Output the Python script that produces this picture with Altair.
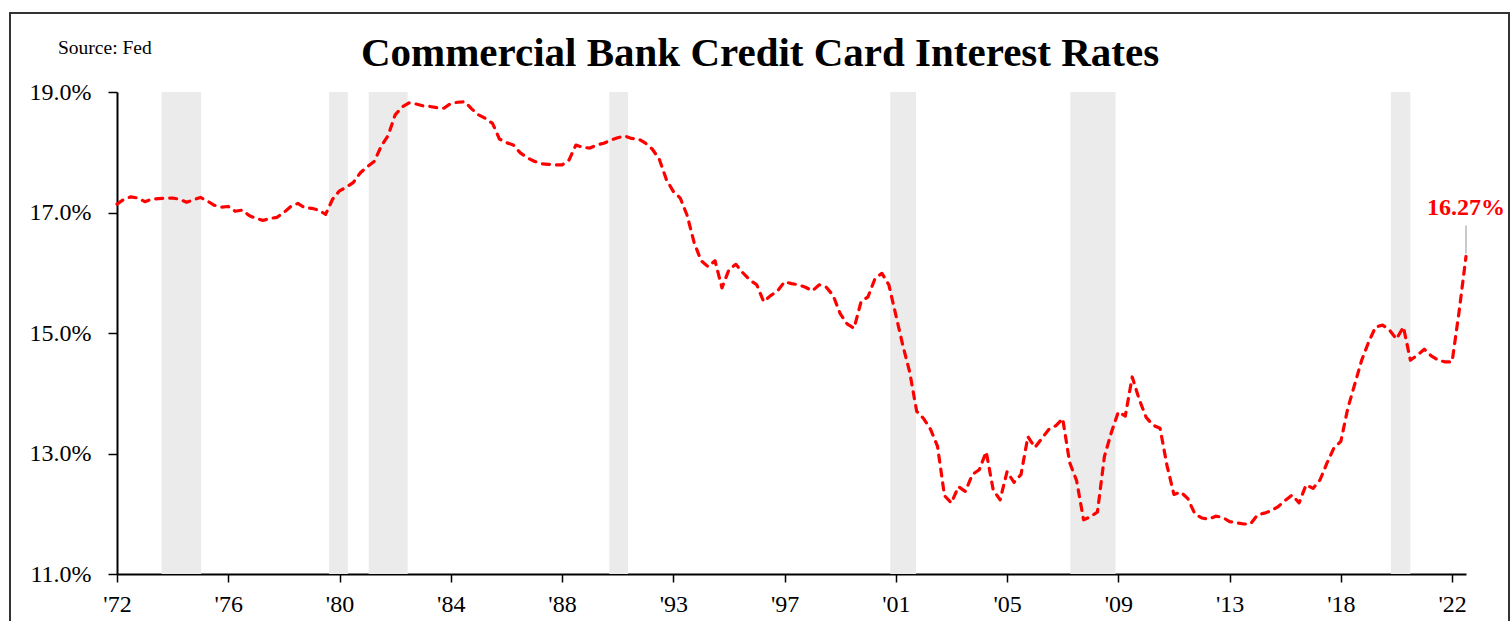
import json
import altair as alt
import pandas as pd

# Quarterly credit-card rate (%)
rates = [
    17.14, 17.22, 17.26, 17.24, 17.18, 17.22, 17.23, 17.24, 17.24, 17.22,
    17.17, 17.21, 17.25, 17.19, 17.12, 17.09, 17.10, 17.02, 17.04, 16.95,
    16.90, 16.87, 16.90, 16.92, 17.00, 17.10, 17.15, 17.08, 17.07, 17.04,
    16.97, 17.22, 17.36, 17.42, 17.50, 17.66, 17.76, 17.85, 18.10, 18.28,
    18.62, 18.75, 18.82, 18.80, 18.77, 18.76, 18.74, 18.73, 18.81, 18.83,
    18.84, 18.72, 18.62, 18.56, 18.48, 18.22, 18.16, 18.12, 17.99, 17.91,
    17.85, 17.81, 17.80, 17.79, 17.79, 17.87, 18.12, 18.08, 18.07, 18.12,
    18.15, 18.20, 18.24, 18.27, 18.23, 18.22, 18.15, 18.05, 17.88, 17.55,
    17.35, 17.24, 16.95, 16.50, 16.20, 16.10, 16.20, 15.75, 16.05, 16.14,
    16.00, 15.88, 15.80, 15.52, 15.62, 15.70, 15.85, 15.82, 15.80, 15.76,
    15.70, 15.80, 15.76, 15.62, 15.32, 15.15, 15.08, 15.52, 15.60, 15.90,
    15.99, 15.80, 15.30, 14.80, 14.35, 13.70, 13.58, 13.40, 13.12, 12.30,
    12.18, 12.45, 12.37, 12.65, 12.73, 13.03, 12.40, 12.23, 12.70, 12.52,
    12.65, 13.28, 13.10, 13.25, 13.40, 13.46, 13.58, 12.85, 12.55, 11.90,
    11.95, 12.03, 12.95, 13.35, 13.69, 13.62, 14.27, 13.90, 13.60, 13.47,
    13.42, 12.80, 12.32, 12.36, 12.25, 12.00, 11.93, 11.91, 11.96, 11.94,
    11.87, 11.85, 11.83, 11.83, 11.98, 12.01, 12.05, 12.12, 12.22, 12.31,
    12.18, 12.48, 12.42, 12.56, 12.84, 13.09, 13.20, 13.75, 14.15, 14.55,
    14.85, 15.10, 15.13, 15.05, 14.90, 15.10, 14.55, 14.63, 14.73, 14.62,
    14.55, 14.52, 14.52, 15.35, 16.27,
]
period_index = list(range(len(rates)))

# Category-axis labels (one every 16 observations)
tick_positions = [0, 16, 32, 48, 64, 80, 96, 112, 128, 144, 160, 176, 192]
tick_labels = ["'72", "'76", "'80", "'84", "'88", "'93", "'97",
               "'01", "'05", "'09", "'13", "'18", "'22"]

# Recession shading, in observation-index units
rec_start = [6.4, 30.5, 36.2, 70.8, 111.2, 137.1, 183.2]
rec_end = [12.1, 33.2, 41.8, 73.5, 114.9, 143.6, 186.0]

y_ticks = [11, 13, 15, 17, 19]

df = pd.DataFrame({"i": period_index, "rate": rates})
rec = pd.DataFrame({"s": rec_start, "e": rec_end})
last = pd.DataFrame({"i": [period_index[-1]], "rate": [rates[-1]],
                     "label": [f"{rates[-1]:.2f}%"]})

SERIF = "Liberation Serif"
W, H = 1349, 482

xscale = alt.Scale(domain=[0, period_index[-1]], nice=False, zero=False)
yscale = alt.Scale(domain=[11, 19], nice=False, zero=False)

label_expr = json.dumps(tick_labels) + "[round(datum.value/16)]"

x_axis = alt.Axis(
    values=tick_positions, labelExpr=label_expr, title=None,
    grid=False, domainColor="black", domainWidth=2, tickColor="black",
    tickWidth=1.5, tickSize=8, labelFont=SERIF, labelFontSize=24,
    labelColor="black", labelPadding=10, labelFlush=False,
)
y_axis = alt.Axis(
    values=y_ticks, labelExpr="format(datum.value, '.1f') + '%'",
    title=None, grid=False, domainColor="black", domainWidth=2,
    tickColor="black", tickWidth=1.5, tickSize=9, labelFont=SERIF,
    labelFontSize=24, labelColor="black", labelPadding=17,
)

shade = alt.Chart(rec).mark_rect(color="#EBEBEB").encode(
    x=alt.X("s:Q", scale=xscale, axis=x_axis),
    x2="e:Q",
    y=alt.datum(19, scale=yscale, axis=y_axis),
    y2=alt.datum(11),
)

line = alt.Chart(df).mark_line(
    color="#FF0000", strokeWidth=3.2, strokeDash=[7, 7], strokeCap="round",
    strokeJoin="round",
).encode(
    x=alt.X("i:Q", scale=xscale, axis=x_axis),
    y=alt.Y("rate:Q", scale=yscale, axis=y_axis),
)

leader = alt.Chart(last).mark_rule(
    color="#A6A6A6", strokeWidth=1.2, yOffset=-3, y2Offset=-31,
).encode(
    x=alt.X("i:Q", scale=xscale, axis=x_axis),
    y=alt.Y("rate:Q", scale=yscale, axis=y_axis),
    y2="rate:Q",
)

ann = alt.Chart(last).mark_text(
    color="#FF0000", font=SERIF, fontSize=24, fontWeight="bold",
    align="center", baseline="alphabetic", dy=-41,
).encode(
    x=alt.X("i:Q", scale=xscale, axis=x_axis),
    y=alt.Y("rate:Q", scale=yscale, axis=y_axis),
    text="label:N",
)

title = alt.Chart(last).mark_text(
    text="Commercial Bank Credit Card Interest Rates", font=SERIF,
    fontSize=41, fontWeight="bold", color="black", align="center",
    baseline="alphabetic",
).encode(x=alt.value(643), y=alt.value(-26))

source = alt.Chart(last).mark_text(
    text="Source: Fed", font=SERIF, fontSize=19.5, color="black",
    align="left", baseline="alphabetic",
).encode(x=alt.value(-59), y=alt.value(-38))

frame = alt.Chart(last).mark_rect(
    fill=None, fillOpacity=0, stroke="#333333", strokeWidth=2,
).encode(x=alt.value(-107), x2=alt.value(1392),
         y=alt.value(-79), y2=alt.value(560))

chart = alt.layer(shade, line, leader, ann, title, source, frame).properties(
    width=W, height=H,
    autosize=alt.AutoSizeParams(type="none"),
    padding={"left": 117, "top": 92, "right": 45, "bottom": 47},
    background="white",
).configure_view(stroke=None)

chart.save("out.html", embed_options={"renderer": "svg", "actions": False})
